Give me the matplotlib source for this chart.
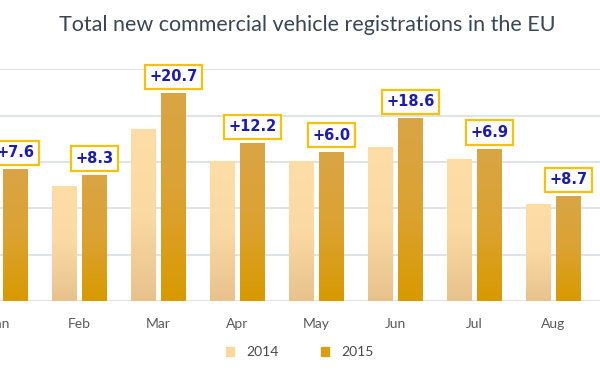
import numpy as np
import matplotlib
matplotlib.use("Agg")
import matplotlib.pyplot as plt
from matplotlib.colors import LinearSegmentedColormap
import matplotlib.patches as mpatches

# ── Data (thousands of units) ────────────────────────────────────────────
months = ["Jan", "Feb", "Mar", "Apr", "May", "Jun", "Jul", "Aug"]
reg_2014 = [132, 124, 186, 151, 151, 166, 153, 105]
reg_2015 = [142, 136, 224, 170, 161, 197, 164, 113]
change_pct = ["+7.6", "+8.3", "+20.7", "+12.2", "+6.0", "+18.6", "+6.9", "+8.7"]
years = ["2014", "2015"]

TITLE = "Total new commercial vehicle registrations in the EU"

cmap_14 = LinearSegmentedColormap.from_list("c14", ["#e7c28c", "#fbd9a3", "#fedda6"])
cmap_15 = LinearSegmentedColormap.from_list("c15", ["#d89a00", "#dca232", "#d9a545"])


def gradient_bars(ax, bars, cmap):
    """Fill each bar with a vertical gradient (dark at bottom)."""
    grad = np.linspace(0, 1, 256).reshape(-1, 1)
    for b in bars:
        x0, y0 = b.get_x(), b.get_y()
        w, h = b.get_width(), b.get_height()
        im = ax.imshow(grad, cmap=cmap, aspect="auto", origin="lower",
                       extent=[x0, x0 + w, y0, y0 + h], zorder=2)
        im.set_clip_path(b)
        b.set_facecolor("none")


fig = plt.figure(figsize=(6, 3.8), dpi=100)
ax = fig.add_axes([0.0, 0.208, 1.0, 0.61])

x = np.arange(len(months))
w = 0.316
off = 0.19
b14 = ax.bar(x - off, reg_2014, w, color="#fbd9a3", zorder=2, linewidth=0)
b15 = ax.bar(x + off, reg_2015, w, color="#d99f20", zorder=2, linewidth=0)
gradient_bars(ax, b14, cmap_14)
gradient_bars(ax, b15, cmap_15)

ax.set_xlim(-0.0063, 7.589)
ax.set_ylim(0, 250)
ax.set_yticks(np.arange(0, 251, 50))
ax.yaxis.grid(True, color="#dfe3e8", linewidth=1.4, zorder=0)
ax.set_axisbelow(True)
ax.tick_params(axis="y", left=False, labelleft=False)
ax.tick_params(axis="x", bottom=False, pad=9, labelsize=10, labelcolor="#595959")
ax.set_xticks(x)
ax.set_xticklabels(months, family="Lato")
for s in ax.spines.values():
    s.set_visible(False)

# boxed % change labels above 2015 bars
for xi, v, lbl in zip(x, reg_2015, change_pct):
    ax.annotate(lbl, (xi + off, v), xytext=(0, 9), textcoords="offset pixels",
                ha="center", va="bottom", fontsize=10.5, fontweight="bold",
                color="#1c1cb0", annotation_clip=False, zorder=5,
                bbox=dict(boxstyle="square,pad=0.32", fc="white",
                          ec="#f5c20a", lw=1.6))

fig.text(0.512, 0.935, TITLE, ha="center", va="center", fontsize=15.5,
         color="#3a4556", family="Lato")

handles = [mpatches.Patch(color="#fbd7a0", label=years[0]),
           mpatches.Patch(color="#d99d10", label=years[1])]
leg = fig.legend(handles=handles, loc="center", bbox_to_anchor=(0.5, 0.073),
                 ncol=2, frameon=False, handlelength=0.6, handleheight=0.6,
                 handletextpad=0.9, columnspacing=3.0,
                 prop={"family": "Lato", "size": 10})
for t in leg.get_texts():
    t.set_color("#4a4a4a")

fig.savefig("out.png", dpi=100, facecolor="white")
